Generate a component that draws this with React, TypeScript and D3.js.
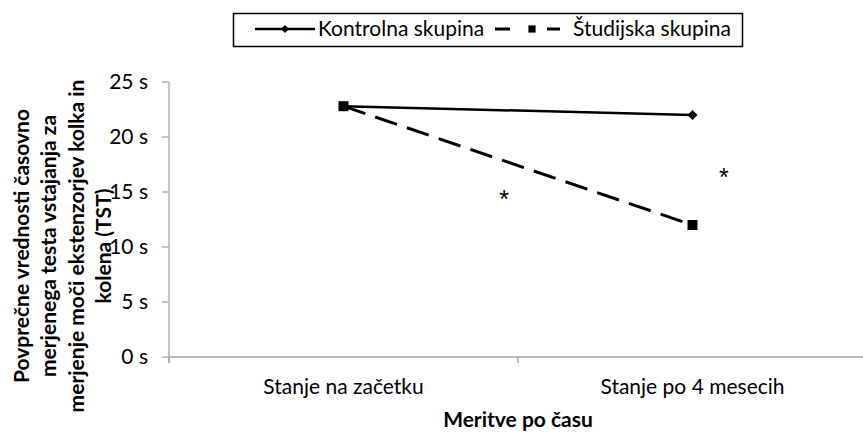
import React from "react";
import * as d3 from "d3";

const categories = ["Stanje na začetku", "Stanje po 4 mesecih"];
const kontrolna = [22.8, 22.0];
const studijska = [22.8, 12.0];
const yTicks = [0, 5, 10, 15, 20, 25];
const seriesNames = ["Kontrolna skupina", "Študijska skupina"];
const yTitleLines = [
  "Povprečne vrednosti časovno",
  "merjenega testa vstajanja za",
  "merjenje moči ekstenzorjev kolka in",
  "kolena (TST)",
];
const xTitle = "Meritve po času";
// significance marks: position on category index axis and value
const asteriskIdx = [0.46, 1.09];
const asteriskVal = [14.9, 16.85];

const W = 863;
const H = 432;
const FONT = "Lato, 'Open Sans', sans-serif";

export default function App() {
  const plotLeft = 169;
  const plotRight = 867;
  const plotTop = 82;
  const plotBottom = 357;

  const x = d3.scaleBand<string>().domain(categories).range([plotLeft, plotRight]).padding(0);
  const cx = (c: string) => (x(c) as number) + x.bandwidth() / 2;
  const xi = d3.scaleLinear().domain([0, 1]).range([cx(categories[0]), cx(categories[1])]);
  const y = d3.scaleLinear().domain([0, 25]).range([plotBottom, plotTop]);

  const line = d3
    .line<number>()
    .x((_, i) => cx(categories[i]))
    .y((d) => y(d));

  const diamond = d3.symbol(d3.symbolSquare, 50)();
  const square = d3.symbol(d3.symbolSquare, 100)();
  const legDiamond = d3.symbol(d3.symbolSquare, 34)();
  const legSquare = d3.symbol(d3.symbolSquare, 52)();

  const fs = 21;
  const axisColor = "#a6a6a6";
  const tickBoundaries = [plotLeft, plotLeft + x.bandwidth()];

  return (
    <svg
      width={W}
      height={H}
      style={{ position: "absolute", left: 0, top: 0, background: "#fff" }}
      fontFamily={FONT}
    >
      <rect x={0} y={0} width={W} height={H} fill="#fff" />
      {/* legend */}
      <g>
        <rect x={233.5} y={13.5} width={509} height={33} fill="#fff" stroke="#000" strokeWidth={1.5} />
        <line x1={255} x2={315} y1={29} y2={29} stroke="#000" strokeWidth={2.5} />
        <path d={legDiamond} transform="translate(285,29) rotate(45)" fill="#000" />
        <text x={318} y={29} dy="0.35em" fontSize={fs} fill="#000">
          {seriesNames[0]}
        </text>
        <line x1={495} x2={510} y1={29} y2={29} stroke="#000" strokeWidth={3} />
        <line x1={547} x2={560} y1={29} y2={29} stroke="#000" strokeWidth={3} />
        <path d={legSquare} transform="translate(532,29)" fill="#000" />
        <text x={573} y={29} dy="0.35em" fontSize={fs} fill="#000">
          {seriesNames[1]}
        </text>
      </g>

      {/* y axis */}
      <line x1={plotLeft} x2={plotLeft} y1={plotTop} y2={plotBottom + 6} stroke={axisColor} strokeWidth={1.3} />
      {yTicks.map((t) => (
        <g key={t}>
          <line x1={plotLeft - 7} x2={plotLeft} y1={y(t)} y2={y(t)} stroke={axisColor} strokeWidth={1.3} />
          <text x={plotLeft - 21} y={y(t)} dy="0.35em" textAnchor="end" fontSize={fs} fill="#000">
            {`${t} s`}
          </text>
        </g>
      ))}

      {/* x axis */}
      <line x1={plotLeft} x2={plotRight} y1={plotBottom} y2={plotBottom} stroke={axisColor} strokeWidth={1.3} />
      {tickBoundaries.map((b, i) => (
        <line key={i} x1={b} x2={b} y1={plotBottom} y2={plotBottom + 6} stroke={axisColor} strokeWidth={1.3} />
      ))}
      {categories.map((c) => (
        <text key={c} x={cx(c)} y={394} textAnchor="middle" fontSize={fs} fill="#000">
          {c}
        </text>
      ))}
      <text x={518} y={427} textAnchor="middle" fontSize={fs} fontWeight="bold" fill="#000">
        {xTitle}
      </text>

      {/* y title */}
      <g transform="translate(0,246) rotate(-90)">
        {yTitleLines.map((l, i) => (
          <text
            key={i}
            x={0}
            y={21.5 + i * 27.5}
            dy="0.35em"
            textAnchor="middle"
            fontSize={fs}
            fontWeight="bold"
            fill="#000"
          >
            {l}
          </text>
        ))}
      </g>

      {/* series */}
      <path d={line(kontrolna) as string} fill="none" stroke="#000" strokeWidth={2.5} />
      {kontrolna.map((v, i) => (
        <path key={i} d={diamond} transform={`translate(${cx(categories[i])},${y(v)}) rotate(45)`} fill="#000" />
      ))}
      <path d={line(studijska) as string} fill="none" stroke="#000" strokeWidth={3} strokeDasharray="23 10.5" />
      {studijska.map((v, i) => (
        <path key={i} d={square} transform={`translate(${cx(categories[i])},${y(v)})`} fill="#000" />
      ))}

      {/* significance asterisks */}
      {asteriskIdx.map((a, i) => (
        <text
          key={i}
          x={xi(a)}
          y={y(asteriskVal[i])}
          dy="0.58em"
          textAnchor="middle"
          fontSize={25}
          fontFamily="'Liberation Sans', Arial, sans-serif"
          fill="#000"
        >
          *
        </text>
      ))}
    </svg>
  );
}
